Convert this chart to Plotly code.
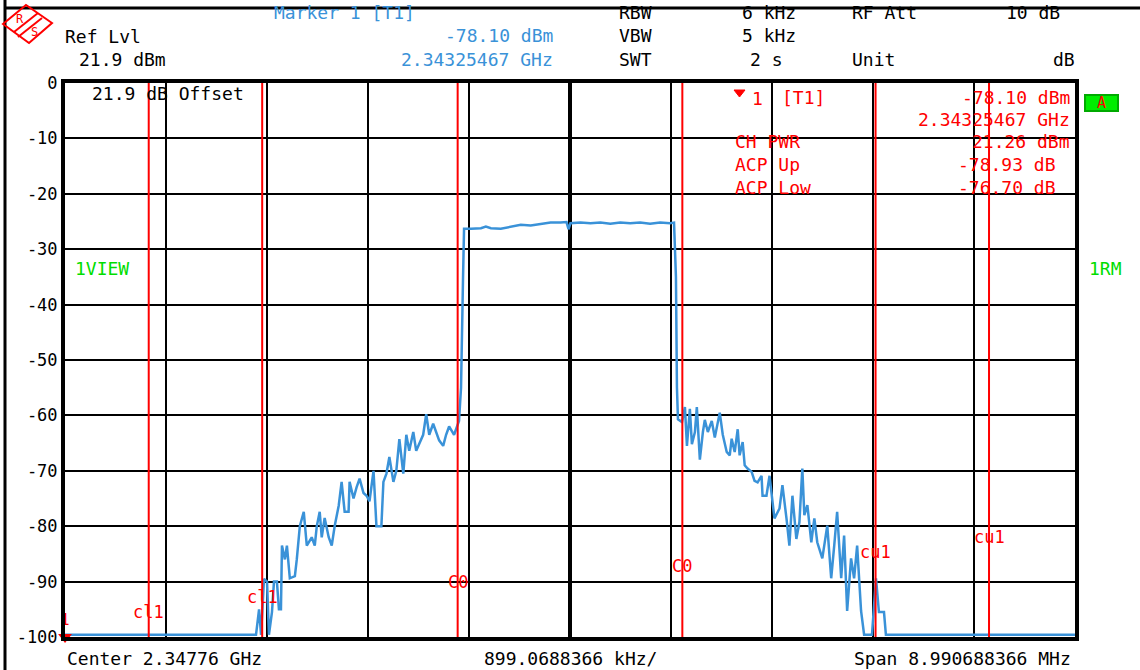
import plotly.graph_objects as go

#==================================================================================
# Analyzer settings
center_ghz = 2.34776
span_mhz = 8.990688366
div_mhz = 0.8990688366

# Trace 1 : frequency offset from center (MHz) / level (dB)
freq_mhz = [-4.495, -2.795, -2.768, -2.750, -2.724, -2.697, -2.680, -2.653, -2.635, -2.609,
            -2.591, -2.573, -2.564, -2.538, -2.520, -2.494, -2.449, -2.432, -2.405, -2.370,
            -2.343, -2.299, -2.272, -2.254, -2.228, -2.210, -2.184, -2.148, -2.121, -2.095,
            -2.059, -2.033, -2.006, -1.971, -1.962, -1.927, -1.900, -1.873, -1.838, -1.811,
            -1.785, -1.749, -1.723, -1.679, -1.661, -1.634, -1.608, -1.572, -1.546, -1.519,
            -1.484, -1.457, -1.431, -1.395, -1.369, -1.342, -1.307, -1.280, -1.253, -1.218,
            -1.191, -1.165, -1.129, -1.103, -1.076, -1.032, -0.988, -0.970, -0.952, -0.943,
            -0.881, -0.793, -0.749, -0.704, -0.616, -0.527, -0.438, -0.350, -0.261, -0.173,
            -0.084, -0.031, -0.013, 0.004, 0.093, 0.182, 0.270, 0.359, 0.447, 0.536,
            0.624, 0.713, 0.802, 0.890, 0.926, 0.943, 0.952, 0.961,
            0.997, 1.023, 1.041, 1.067, 1.085, 1.112, 1.129, 1.156, 1.183, 1.200,
            1.227, 1.262, 1.289, 1.315, 1.333, 1.360, 1.395, 1.422, 1.439, 1.466,
            1.493, 1.510, 1.537, 1.555, 1.581, 1.617, 1.643, 1.670, 1.705, 1.714,
            1.749, 1.776, 1.820, 1.865, 1.891, 1.927, 1.953, 1.980, 2.015, 2.042,
            2.068, 2.086, 2.113, 2.148, 2.175, 2.201, 2.246, 2.290, 2.325, 2.352,
            2.378, 2.414, 2.440, 2.467, 2.502, 2.529, 2.556, 2.591, 2.618, 2.688,
            2.724, 2.750, 2.795, 2.812, 4.495]
level_db = [-99.6, -99.6, -95.0, -99.6, -89.5, -90.0, -99.6, -95.5, -90.0, -90.0,
            -95.0, -95.0, -83.5, -86.0, -83.5, -89.4, -89.0, -86.0, -80.0, -77.4,
            -83.5, -82.0, -83.5, -80.0, -77.4, -82.0, -78.5, -82.0, -83.5, -80.0,
            -76.3, -72.0, -77.4, -77.4, -72.0, -75.0, -73.0, -71.4, -74.0, -74.5,
            -75.5, -70.0, -80.0, -80.0, -72.0, -70.5, -67.5, -72.0, -70.0, -64.3,
            -70.5, -63.5, -66.4, -63.0, -66.4, -65.0, -63.5, -59.8, -63.5, -61.5,
            -63.0, -64.5, -65.5, -63.5, -62.0, -63.5, -61.0, -55.0, -35.0, -26.3,
            -26.3, -26.2, -25.9, -26.2, -26.3, -25.9, -25.6, -25.7, -25.4, -25.2,
            -25.2, -25.1, -26.4, -25.3, -25.2, -25.3, -25.2, -25.4, -25.2, -25.3,
            -25.2, -25.4, -25.2, -25.3, -25.2, -35.0, -55.0, -60.7,
            -61.2, -58.5, -65.5, -58.8, -65.2, -63.0, -58.5, -68.0, -63.0, -60.8,
            -63.0, -61.0, -64.0, -61.5, -59.5, -63.5, -66.6, -67.2, -64.2, -66.6,
            -62.5, -67.2, -64.8, -69.0, -69.6, -70.2, -71.8, -72.1, -70.9, -74.5,
            -74.5, -70.9, -78.6, -76.8, -72.6, -78.6, -83.5, -74.5, -82.3, -79.3,
            -69.6, -78.0, -76.2, -82.9, -78.6, -82.9, -85.8, -79.9, -89.4, -83.5,
            -77.4, -89.4, -81.7, -95.3, -85.8, -89.4, -83.5, -95.3, -99.6, -99.6,
            -89.4, -95.5, -95.5, -99.6, -99.6]

# Channel limit lines (offset from center, MHz) and their labels
chan_mhz = [-3.75, -2.74, -1.0, 1.0, 2.72, 3.73]
chan_names = ["cl1", "cl1", "C0", "C0", "cu1", "cu1"]
chan_label_db = [-95.5, -92.8, -90.0, -87.1, -84.6, -81.9]

# Y axis ticks
y_ticks = [0, -10, -20, -30, -40, -50, -60, -70, -80, -90, -100]

# Marker 1
mk_freq_mhz = -4.495
mk_level_db = -100

#==================================================================================
trace_color = '#3a92d8'
red = '#ff0000'
green = '#00dd00'
mono = 'DejaVu Sans Mono'

# plot area in page pixels (for header texts and frame decoration)
L, T, W, H = 65, 83, 1010, 554
def px(x):
    return (x - L) / W
def py(y):
    return (T + H - y) / H

fig = go.Figure()

fig.add_trace(go.Scatter(
        x = freq_mhz,
        y = level_db,
        mode = 'lines',
        line = dict(color = trace_color, width = 2.5),
        hoverinfo = 'skip'
))

fig.add_trace(go.Scatter(
        x = [mk_freq_mhz],
        y = [mk_level_db],
        mode = 'markers+text',
        marker = dict(symbol = 'triangle-down', color = red, size = 12),
        text = ['1'],
        textposition = 'top center',
        textfont = dict(family = mono, size = 15, color = red),
        cliponaxis = False,
        hoverinfo = 'skip'
))

shapes = []
# channel lines
for f in chan_mhz:
    shapes.append(dict(type = 'line', xref = 'x', yref = 'paper', x0 = f, x1 = f, y0 = 0, y1 = 1,
                       line = dict(color = red, width = 2), layer = 'above'))
# outer frame of the screen
shapes.append(dict(type = 'line', xref = 'paper', yref = 'paper', x0 = px(5), x1 = px(1140),
                   y0 = py(8), y1 = py(8), line = dict(color = 'black', width = 3)))
shapes.append(dict(type = 'line', xref = 'paper', yref = 'paper', x0 = px(5), x1 = px(5),
                   y0 = py(0), y1 = py(670), line = dict(color = 'black', width = 3)))
# R&S logo
shapes.append(dict(type = 'path', xref = 'paper', yref = 'paper',
                   path = 'M {} {} L {} {} L {} {} L {} {} Z'.format(px(3), py(24), px(26), py(5),
                                                                   px(52), py(23), px(29), py(43)),
                   line = dict(color = red, width = 2)))
for (xa, ya, xb, yb) in [(14, 32, 38, 13), (18, 37, 42, 18)]:
    shapes.append(dict(type = 'line', xref = 'paper', yref = 'paper', x0 = px(xa), y0 = py(ya),
                       x1 = px(xb), y1 = py(yb), line = dict(color = red, width = 2)))
# marker triangle in the readout
shapes.append(dict(type = 'path', xref = 'paper', yref = 'paper', fillcolor = red,
                   path = 'M {} {} L {} {} L {} {} Z'.format(px(734), py(90), px(745), py(90), px(739.5), py(97)),
                   line = dict(color = red, width = 1)))
# green "A" box
shapes.append(dict(type = 'rect', xref = 'paper', yref = 'paper', x0 = px(1085), x1 = px(1118),
                   y0 = py(111), y1 = py(95), fillcolor = '#00ee00', line = dict(color = '#00aa00', width = 2)))

fig.update_layout(shapes = shapes)

def txt(x, y, s, color = 'black', anchor = 'left', size = 18):
    fig.add_annotation(x = px(x), y = py(y), xref = 'paper', yref = 'paper', text = s,
                       showarrow = False, xanchor = anchor, yanchor = 'middle',
                       font = dict(family = mono, size = size, color = color))

# header
txt(63, 37, 'Ref Lvl')
txt(77, 59, '21.9 dBm')
txt(272, 13, 'Marker 1 [T1]', trace_color)
txt(555, 36, '-78.10 dBm', trace_color, 'right')
txt(555, 59, '2.34325467 GHz', trace_color, 'right')
txt(617, 13, 'RBW')
txt(617, 36, 'VBW')
txt(617, 59, 'SWT')
txt(798, 13, '6 kHz', anchor = 'right')
txt(798, 36, '5 kHz', anchor = 'right')
txt(785, 59, '2 s', anchor = 'right')
txt(850, 13, 'RF Att')
txt(850, 59, 'Unit')
txt(1062, 13, '10 dB', anchor = 'right')
txt(1077, 59, 'dB', anchor = 'right')
txt(20, 19, 'R', red, 'center', 12)
txt(34, 32, 'S', red, 'center', 12)

# inside the graticule
txt(90, 93, '21.9 dB Offset')
txt(73, 268, '1VIEW', green)
txt(1087, 268, '1RM', green)
txt(1101, 103, 'A', red, 'center', 15)
txt(750, 98, '1', red)
txt(780, 97, '[T1]', red)
txt(1072, 97, '-78.10 dBm', red, 'right')
txt(1072, 120, '2.34325467 GHz', red, 'right')
txt(733, 142, 'CH PWR', red)
txt(1072, 142, '21.26 dBm', red, 'right')
txt(733, 164, 'ACP Up', red)
txt(1058, 164, '-78.93 dB', red, 'right')
txt(733, 187, 'ACP Low', red)
txt(1058, 187, '-76.70 dB', red, 'right')

# footer
txt(65, 658, 'Center {} GHz'.format(center_ghz))
txt(570, 658, '{} kHz/'.format(round(div_mhz * 1000, 7)), anchor = 'center')
txt(1073, 658, 'Span {} MHz'.format(span_mhz), anchor = 'right')

# channel labels
for f, name, lv in zip(chan_mhz, chan_names, chan_label_db):
    fig.add_annotation(x = f, y = lv, xref = 'x', yref = 'y', text = name, showarrow = False,
                       xanchor = 'center', yanchor = 'middle',
                       font = dict(family = mono, size = 17, color = red))

fig.update_layout(
        width = 1140,
        height = 670,
        margin = dict(l = L, r = 1140 - L - W, t = T, b = 670 - T - H, pad = 0),
        paper_bgcolor = 'white',
        plot_bgcolor = 'white',
        showlegend = False,
        xaxis = dict(range = [-span_mhz / 2, span_mhz / 2], tick0 = -span_mhz / 2, dtick = div_mhz,
                     showticklabels = False, ticks = '', showgrid = True, gridcolor = 'black', gridwidth = 2,
                     zeroline = True, zerolinecolor = 'black', zerolinewidth = 4,
                     showline = True, mirror = True, linecolor = 'black', linewidth = 4),
        yaxis = dict(range = [-100, 0], tickvals = y_ticks, ticktext = [str(v) for v in y_ticks],
                     ticks = '', showgrid = True, gridcolor = 'black', gridwidth = 2, zeroline = False,
                     showline = True, mirror = True, linecolor = 'black', linewidth = 4,
                     tickfont = dict(family = mono, size = 17, color = 'black'))
)

# page body has a default 8px margin; drop it so the figure fills the window
fig.write_html("out.html", config = dict(displayModeBar = False),
               post_script = "document.body.style.margin = '0';")
